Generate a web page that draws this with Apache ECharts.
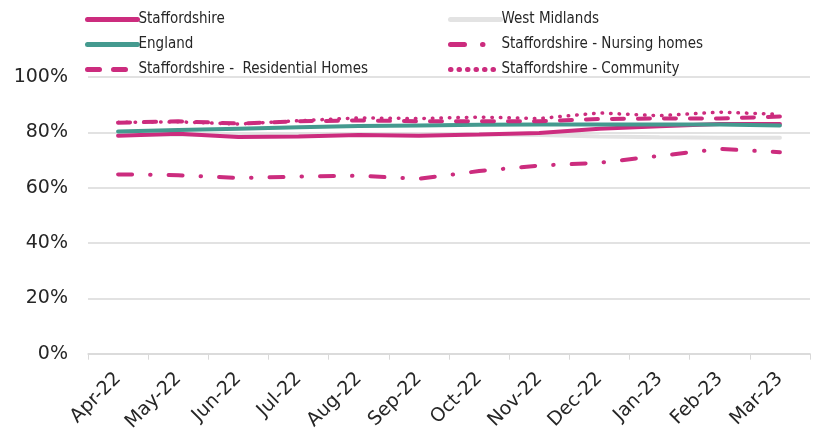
<!DOCTYPE html>
<html>
<head>
<meta charset="utf-8">
<script src="https://cdn.jsdelivr.net/npm/echarts@6/dist/echarts.min.js"></script>
<style>
  html, body { margin: 0; padding: 0; background: #fff; }
  #chart { width: 819px; height: 434px; }
</style>
</head>
<body>
<div id="chart"></div>
<script>
// 月份
const months = ['Apr-22', 'May-22', 'Jun-22', 'Jul-22', 'Aug-22', 'Sep-22',
                'Oct-22', 'Nov-22', 'Dec-22', 'Jan-23', 'Feb-23', 'Mar-23'];

// 各系列数值 (%)
const staffordshire = [78.8, 79.5, 78.3, 78.5, 79.0, 78.8, 79.2, 79.8, 81.3, 82.2, 83.0, 83.0];
const england       = [80.3, 80.8, 81.3, 81.8, 82.3, 82.5, 82.7, 82.8, 82.8, 82.8, 82.8, 82.5];
const westMidlands  = [79.0, 79.2, 79.0, 79.0, 79.3, 79.3, 79.3, 79.0, 78.5, 78.2, 78.0, 78.0];
const nursing       = [64.8, 64.5, 63.5, 64.0, 64.3, 63.2, 66.0, 68.0, 69.0, 71.5, 74.0, 72.8];
const residential   = [83.5, 84.0, 83.2, 84.0, 84.3, 84.0, 84.0, 84.0, 84.8, 85.0, 85.0, 85.7];
const community     = [83.6, 83.8, 83.0, 84.2, 85.2, 85.0, 85.5, 85.0, 87.0, 86.0, 87.3, 86.5];

// y 轴刻度
const yTicks = [0, 20, 40, 60, 80, 100];

const MAGENTA = '#CC2C7E';
const TEAL = '#449A8F';
const GREY = '#E3E3E3';

(function () {
    const chart = echarts.init(document.getElementById('chart'));

    const lineSeries = (name, data, color, width, type, z) => ({
        name: name,
        type: 'line',
        data: data,
        showSymbol: false,
        symbol: 'none',
        z: z,
        lineStyle: { width: width, color: color, type: type, cap: 'round' },
        itemStyle: { color: color }
    });

    const legendBase = {
        orient: 'vertical',
        top: 7,
        itemWidth: 50,
        itemHeight: 14,
        itemGap: 10,
        itemStyle: { opacity: 0 },
        lineStyle: { width: 5 },
        textStyle: { fontFamily: 'DejaVu Sans Condensed', fontSize: 15, color: '#262626', padding: [0, 0, 0, -4] }
    };

    chart.setOption({
        backgroundColor: '#fff',
        animation: false,
        legend: [
            Object.assign({}, legendBase, {
                left: 80,
                data: ['Staffordshire', 'England', 'Staffordshire -  Residential Homes']
            }),
            Object.assign({}, legendBase, {
                left: 443,
                data: ['West Midlands', 'Staffordshire - Nursing homes', 'Staffordshire - Community']
            })
        ],
        grid: { left: 88, right: 9, top: 77, bottom: 79 },
        xAxis: {
            type: 'category',
            data: months,
            boundaryGap: true,
            axisLine: { lineStyle: { color: '#D9D9D9', width: 1.5 } },
            axisTick: { show: true, length: 6, lineStyle: { color: '#D9D9D9' } },
            axisLabel: {
                rotate: 45,
                margin: 22,
                interval: 0,
                fontFamily: 'DejaVu Sans',
                fontSize: 19,
                color: '#262626'
            }
        },
        yAxis: {
            type: 'value',
            min: yTicks[0],
            max: yTicks[yTicks.length - 1],
            interval: 20,
            axisLine: { show: false },
            axisTick: { show: false },
            axisLabel: {
                formatter: '{value}%',
                fontFamily: 'DejaVu Sans',
                fontSize: 19,
                color: '#262626',
                margin: 20
            },
            splitLine: { lineStyle: { color: '#D9D9D9', width: 1.5 } }
        },
        series: [
            lineSeries('West Midlands', westMidlands, GREY, 4, 'solid', 1),
            lineSeries('Staffordshire', staffordshire, MAGENTA, 4, 'solid', 2),
            lineSeries('England', england, TEAL, 4, 'solid', 3),
            lineSeries('Staffordshire -  Residential Homes', residential, MAGENTA, 4, [12, 14], 4),
            lineSeries('Staffordshire - Nursing homes', nursing, MAGENTA, 4, [14, 18, 0.5, 18], 4),
            lineSeries('Staffordshire - Community', community, MAGENTA, 3.5, [0.5, 8], 5)
        ]
    });

    window.addEventListener('resize', () => chart.resize());
})();
</script>
</body>
</html>
